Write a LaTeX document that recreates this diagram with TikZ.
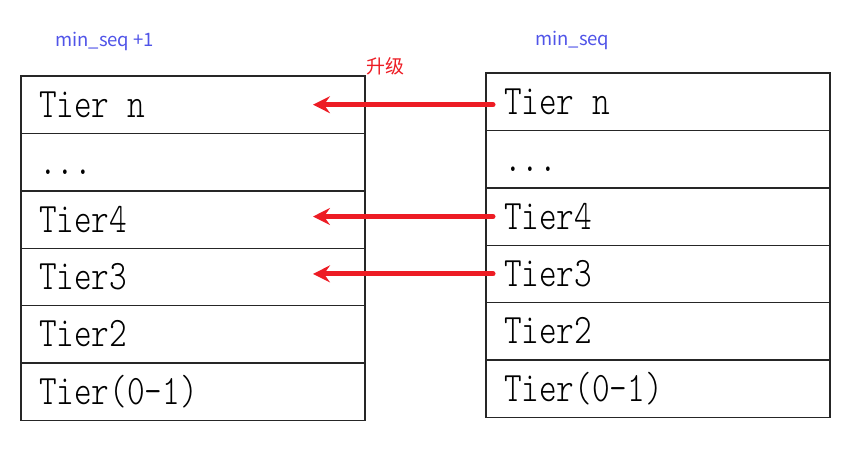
\documentclass[tikz,border=0pt]{standalone}
\usepackage{fontspec}
\usetikzlibrary{arrows.meta, positioning}
\newfontfamily\cjk{Noto Sans CJK SC}
\newfontfamily\tierfont[FakeStretch=0.8]{lmmonolt10-regular.otf}
\definecolor{seqblue}{RGB}{80,84,232}
\definecolor{upred}{RGB}{237,28,36}

\begin{document}
\begin{tikzpicture}[x=1pt, y=-1pt,
  tierrow/.style={draw=black!85, line width=1.4pt, outer sep=0pt,
    text width=308pt, inner xsep=18pt, inner ysep=0pt, minimum height=57.4pt,
    align=left, font=\tierfont\fontsize{42}{46}\selectfont,
    text height=25pt, text depth=0pt},
  seqlabel/.style={text=seqblue, font=\cjk\fontsize{18.5}{22}\selectfont, anchor=west, inner sep=0pt},
  upgrade/.style={draw=upred, line width=5pt, line cap=round,
    -{Stealth[length=17pt, width=17pt, inset=6pt]}}]
  \useasboundingbox (0,0) rectangle (864,448);

  % new generation (left)
  \node[tierrow, anchor=north west] (l1) at (21,76) {Tier\hspace{17.6pt}n};
  \node[tierrow, below=0pt of l1] (l2) {...};
  \node[tierrow, below=0pt of l2] (l3) {Tier4};
  \node[tierrow, below=0pt of l3] (l4) {Tier3};
  \node[tierrow, below=0pt of l4] (l5) {Tier2};
  \node[tierrow, below=0pt of l5] (l6) {Tier(0-1)};

  % oldest generation (right)
  \node[tierrow, anchor=north west] (r1) at (486,73) {Tier\hspace{17.6pt}n};
  \node[tierrow, below=0pt of r1] (r2) {...};
  \node[tierrow, below=0pt of r2] (r3) {Tier4};
  \node[tierrow, below=0pt of r3] (r4) {Tier3};
  \node[tierrow, below=0pt of r4] (r5) {Tier2};
  \node[tierrow, below=0pt of r5] (r6) {Tier(0-1)};

  \node[seqlabel] (seqnew) at (55,41) {min\_seq +1};
  \node[seqlabel] (seqold) at (535,40) {min\_seq};
  \node[text=upred, font=\cjk\fontsize{19}{22}\selectfont, anchor=south west, inner sep=1pt]
    (uplabel) at (l1.north east) {升级};

  \draw[upgrade] ([xshift=7pt, yshift=-3pt]r1.west) -- ([xshift=-52pt]l1.east);
  \draw[upgrade] ([xshift=7pt]r3.west) -- ([xshift=-52pt]l3.east |- r3.west);
  \draw[upgrade] ([xshift=7pt]r4.west) -- ([xshift=-52pt]l4.east |- r4.west);
\end{tikzpicture}
\end{document}
